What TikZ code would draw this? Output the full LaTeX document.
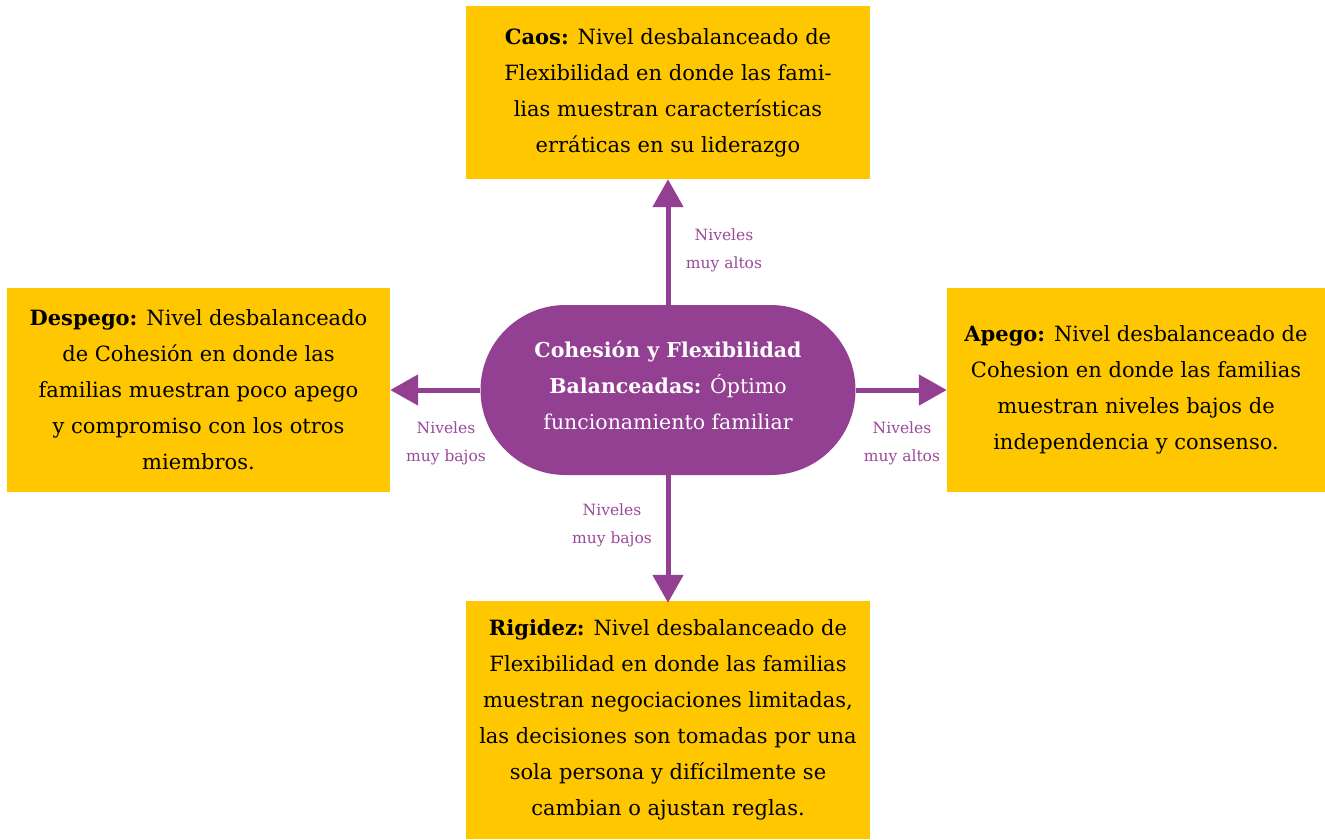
\documentclass[tikz,border=0pt]{standalone}
\usepackage{fontspec}
\setmainfont{DejaVu Serif}
\usetikzlibrary{arrows.meta}
\definecolor{boxyellow}{HTML}{FFC700}
\definecolor{pillpurple}{HTML}{934093}
\definecolor{labelpurple}{HTML}{9A4A9A}
\tikzset{
  infobox/.style={rectangle, fill=boxyellow, align=center, inner sep=0pt,
    font=\fontsize{21}{36}\selectfont, text=black},
  pill/.style={rectangle, rounded corners=85pt, fill=pillpurple,
    minimum width=375pt, minimum height=170pt, inner sep=0pt},
  pilltext/.style={align=center, text=white, inner sep=0pt,
    font=\fontsize{20.5}{36}\selectfont},
  link/.style={draw=pillpurple, line width=5pt,
    -{Triangle[width=30pt,length=28pt]}},
  levellabel/.style={text=labelpurple, align=center,
    font=\fontsize{15.5}{28}\selectfont, inner sep=0pt}
}
\begin{document}
\begin{tikzpicture}[x=1pt,y=-1pt]
\useasboundingbox (0,0) rectangle (1325,839);

% central rounded shape and its caption
\node[pill] (center) at (668,390) {};
\node[pilltext] (centertext) at (668,385) {\textbf{Cohesión y Flexibilidad}\\\textbf{Balanceadas:} Óptimo\\funcionamiento familiar};

\node[infobox, minimum width=404pt, minimum height=173pt] (caos) at (668,92.5)
  {\textbf{Caos:} Nivel desbalanceado de\\Flexibilidad en donde las fami-\\lias muestran características\\erráticas en su liderazgo};

\node[infobox, minimum width=383pt, minimum height=204pt] (despego) at (198.5,390)
  {\textbf{Despego:} Nivel desbalanceado\\de Cohesión en donde las\\familias muestran poco apego\\y compromiso con los otros\\miembros.};

\node[infobox, minimum width=378pt, minimum height=204pt] (apego) at (1136,390)
  {\textbf{Apego:} Nivel desbalanceado de\\Cohesion en donde las familias\\muestran niveles bajos de\\independencia y consenso.};

\node[infobox, minimum width=404pt, minimum height=238pt] (rigidez) at (668,720)
  {\textbf{Rigidez:} Nivel desbalanceado de\\Flexibilidad en donde las familias\\muestran negociaciones limitadas,\\las decisiones son tomadas por una\\sola persona y difícilmente se\\cambian o ajustan reglas.};

\draw[link] (center.north) -- (caos.south);
\draw[link] (center.west) -- (despego.east);
\draw[link] (center.east) -- (apego.west);
\draw[link] (center.south) -- ([yshift=-2pt]rigidez.north);

\node[levellabel] (lbltop) at (724,250) {Niveles\\muy altos};
\node[levellabel] (lblleft) at (446,443) {Niveles\\muy bajos};
\node[levellabel] (lblright) at (902,443) {Niveles\\muy altos};
\node[levellabel] (lblbottom) at (612,525) {Niveles\\muy bajos};
\end{tikzpicture}
\end{document}
